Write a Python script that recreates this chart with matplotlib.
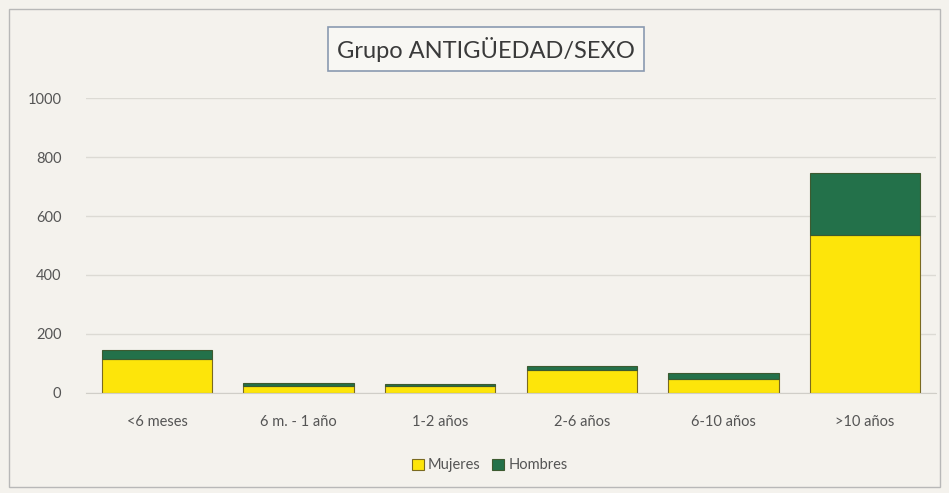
import numpy as np
import matplotlib
matplotlib.use("Agg")
import matplotlib.pyplot as plt
from matplotlib.patches import Rectangle

plt.rcParams['font.family'] = ['Lato', 'DejaVu Sans']

#==================== data ====================#
categorias = ["<6 meses", "6 m. - 1 año", "1-2 años", "2-6 años", "6-10 años", ">10 años"]
mujeres = [115, 22, 22, 78, 48, 537]
hombres = [32, 10, 9, 14, 20, 208]

col_muj = "#fde50a"
col_hom = "#23714a"
fondo = "#f4f2ed"

#==================== figure ====================#
fig = plt.figure(figsize=(9.49, 4.93), dpi=100, facecolor=fondo)
ax = fig.add_axes([0.091, 0.203, 0.895, 0.598], facecolor=fondo)

x = np.arange(len(categorias))
ax.bar(x, mujeres, width=0.78, color=col_muj, edgecolor="#7a6a20", linewidth=0.8, label="Mujeres")
ax.bar(x, hombres, width=0.78, bottom=mujeres, color=col_hom, edgecolor="#3d5a30", linewidth=0.8, label="Hombres")

ax.set_xlim(-0.5, len(categorias) - 0.5)
ax.set_ylim(0, 1000)
ax.set_yticks(range(0, 1001, 200))
ax.set_xticks(x)
ax.set_xticklabels(categorias)
ax.tick_params(axis='both', length=0, labelsize=10.5, colors="#555555")
ax.tick_params(axis='x', pad=16)
ax.tick_params(axis='y', pad=18)
ax.grid(axis='y', color="#dcdad4", linewidth=1)
ax.set_axisbelow(True)
for s in ['top', 'right', 'left']:
    ax.spines[s].set_visible(False)
ax.spines['bottom'].set_color("#d0cec8")

# legend at the bottom
ax.legend(loc='center', bbox_to_anchor=(0.475, -0.245), ncol=2, frameon=False,
          fontsize=10.5, handlelength=0.8, handleheight=0.8, columnspacing=0.8,
          handletextpad=0.3, labelcolor="#555555")

# title in a box
fig.text(0.512, 0.9, "Grupo ANTIGÜEDAD/SEXO", ha='center', va='center', fontsize=17,
         color="#3a3a3a",
         bbox=dict(boxstyle='square,pad=0.4', facecolor="#f8f7f3", edgecolor="#8a9ab0", linewidth=1.2))

# outer chart border
fig.patches.append(Rectangle((0.009, 0.012), 0.982, 0.97, transform=fig.transFigure,
                             fill=False, edgecolor="#b8b8b8", linewidth=1))

fig.savefig("out.png", dpi=100, facecolor=fondo)
